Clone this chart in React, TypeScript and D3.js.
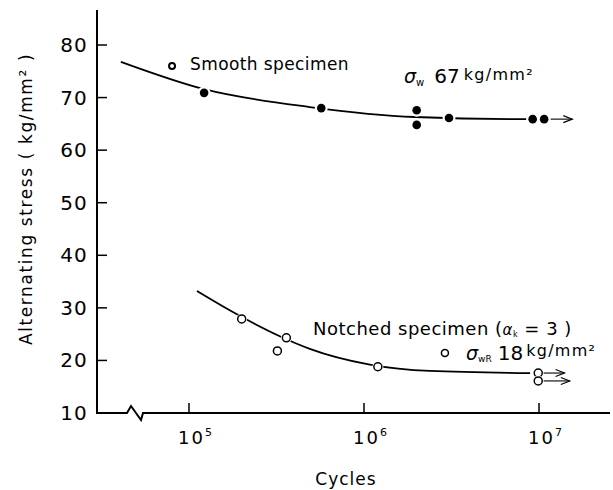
import React from "react";
import * as d3 from "d3";

// ---- data ----
const yTicks = [10, 20, 30, 40, 50, 60, 70, 80];
const xTickExps = [5, 6, 7];

// smooth specimen test points
const smoothCycles = [8.0e4, 1.22e5, 5.7e5, 2.0e6, 2.0e6, 3.06e6, 9.2e6, 1.07e7];
const smoothStress = [76.0, 70.9, 68.0, 67.6, 64.8, 66.1, 65.9, 65.9];
const smoothHollow = [true, false, false, false, false, false, false, false];

// smooth fitted S-N curve
const smoothCurveCycles = [4.08e4, 1.22e5, 4.9e5, 1.95e6, 8.3e6, 1.07e7];
const smoothCurveStress = [76.8, 71.6, 68.2, 66.3, 65.9, 65.9];

// notched specimen test points
const notchCycles = [2.0e5, 3.2e5, 3.6e5, 1.2e6, 9.9e6, 9.9e6];
const notchStress = [27.9, 21.8, 24.3, 18.8, 17.6, 16.1];

// notched fitted S-N curve
const notchCurveCycles = [1.11e5, 1.78e5, 3.3e5, 4.9e5, 1.08e6, 2.38e6, 8.9e6];
const notchCurveStress = [33.2, 29.2, 24.6, 22.2, 19.2, 18.0, 17.6];

// run-outs (arrows): start cycles, end cycles, stress
const arrowStart = [1.1e7, 1.02e7, 1.02e7];
const arrowEnd = [1.55e7, 1.4e7, 1.5e7];
const arrowStress = [65.9, 17.6, 16.1];

// annotation marker next to notched fatigue limit
const markerCycles = [2.9e6];
const markerStress = [21.4];

const FONT = "'DejaVu Sans', sans-serif";

export default function App() {
  const x = d3.scaleLog().domain([1e5, 1e7]).range([189, 539]);
  const y = d3.scaleLinear().domain([10, 80]).range([413, 45]);

  const line = d3
    .line<[number, number]>()
    .x((d) => x(d[0]))
    .y((d) => y(d[1]))
    .curve(d3.curveMonotoneX);

  const smoothPath = line(smoothCurveCycles.map((c, i) => [c, smoothCurveStress[i]]) as [number, number][]);
  const notchPath = line(notchCurveCycles.map((c, i) => [c, notchCurveStress[i]]) as [number, number][]);

  const x0 = 97;
  const yAxisBase = y(10);
  const axisPath = `M${x0},10 L${x0},${yAxisBase} L127,${yAxisBase} L131,${yAxisBase - 7} L141,${yAxisBase + 7} L143,${yAxisBase} L610,${yAxisBase}`;

  return (
    <svg
      width={613}
      height={490}
      style={{ position: "absolute", left: 0, top: 0, background: "#fff" }}
      fontFamily={FONT}
    >
      <rect width={613} height={490} fill="#fff" />
      {/* axes */}
      <path d={axisPath} fill="none" stroke="#000" strokeWidth={2} />
      {yTicks.map((t) => (
        <g key={"y" + t}>
          <line x1={x0} x2={x0 + 10} y1={y(t)} y2={y(t)} stroke="#000" strokeWidth={1.5} />
          <text x={88} y={y(t) + 7} textAnchor="end" fontSize={20} letterSpacing={1.2} fill="#000">
            {t}
          </text>
        </g>
      ))}
      {xTickExps.map((e) => {
        const px = x(Math.pow(10, e));
        return (
          <g key={"x" + e}>
            <line x1={px} x2={px} y1={yAxisBase} y2={yAxisBase - 10} stroke="#000" strokeWidth={1.5} />
            <text x={px - 11} y={444} fontSize={18} letterSpacing={2} fill="#000">
              10
              <tspan dy={-8} fontSize={11} letterSpacing={0}>
                {e}
              </tspan>
            </text>
          </g>
        );
      })}
      <text x={346} y={485} textAnchor="middle" fontSize={17} letterSpacing={1} fill="#000">
        Cycles
      </text>
      <text
        transform="translate(32,199) rotate(-90)"
        textAnchor="middle"
        fontSize={17}
        letterSpacing={1.6}
        fill="#000"
      >
        Alternating stress ( kg/mm² )
      </text>

      {/* curves */}
      <path d={smoothPath || ""} fill="none" stroke="#000" strokeWidth={1.8} />
      <path d={notchPath || ""} fill="none" stroke="#000" strokeWidth={1.8} />

      {/* run-out arrows */}
      {arrowStart.map((s, i) => {
        const xs = x(s);
        const xe = x(arrowEnd[i]);
        const yy = y(arrowStress[i]);
        return (
          <g key={"a" + i} stroke="#000" strokeWidth={1.1} fill="none">
            <line x1={xs} x2={xe} y1={yy} y2={yy} />
            <path d={`M${xe - 9},${yy - 3.5} L${xe},${yy} L${xe - 9},${yy + 3.5}`} />
          </g>
        );
      })}

      {/* smooth points */}
      {smoothCycles.map((c, i) => (
        <g key={"s" + i}>
          <circle cx={x(c)} cy={y(smoothStress[i])} r={6.5} fill="#fff" />
          {smoothHollow[i] ? (
            <circle cx={x(c)} cy={y(smoothStress[i])} r={3} fill="#fff" stroke="#000" strokeWidth={2} />
          ) : (
            <circle cx={x(c)} cy={y(smoothStress[i])} r={4.3} fill="#000" />
          )}
        </g>
      ))}

      {/* notched points */}
      {notchCycles.map((c, i) => (
        <g key={"n" + i}>
          <circle cx={x(c)} cy={y(notchStress[i])} r={5.5} fill="#fff" />
          <circle cx={x(c)} cy={y(notchStress[i])} r={4} fill="#fff" stroke="#000" strokeWidth={1.5} />
        </g>
      ))}
      {markerCycles.map((c, i) => (
        <circle key={"m" + i} cx={x(c)} cy={y(markerStress[i])} r={3.5} fill="#fff" stroke="#000" strokeWidth={1.5} />
      ))}

      {/* annotations */}
      <text x={190} y={70} fontSize={17} letterSpacing={0.4} fill="#000">
        Smooth specimen
      </text>
      <text x={404} y={83} fill="#000">
        <tspan fontSize={19} fontStyle="italic">σ</tspan>
        <tspan fontSize={10} dy={3}>w</tspan>
        <tspan fontSize={20} dy={-3} dx={10}>67</tspan>
        <tspan fontSize={16} dy={-3} dx={4} letterSpacing={1.3}>kg/mm²</tspan>
      </text>
      <text x={313} y={335} fontSize={18} letterSpacing={0.5} fill="#000">
        Notched specimen (
        <tspan fontSize={15} fontStyle="italic">α</tspan>
        <tspan fontSize={8} dy={2}>k</tspan>
        <tspan dy={-2}> = 3 )</tspan>
      </text>
      <text x={466} y={360} fill="#000">
        <tspan fontSize={19} fontStyle="italic">σ</tspan>
        <tspan fontSize={9} dy={2}>wR</tspan>
        <tspan fontSize={20} dy={-2} dx={6}>18</tspan>
        <tspan fontSize={16} dy={-4} dx={3} letterSpacing={1.3}>kg/mm²</tspan>
      </text>
    </svg>
  );
}
